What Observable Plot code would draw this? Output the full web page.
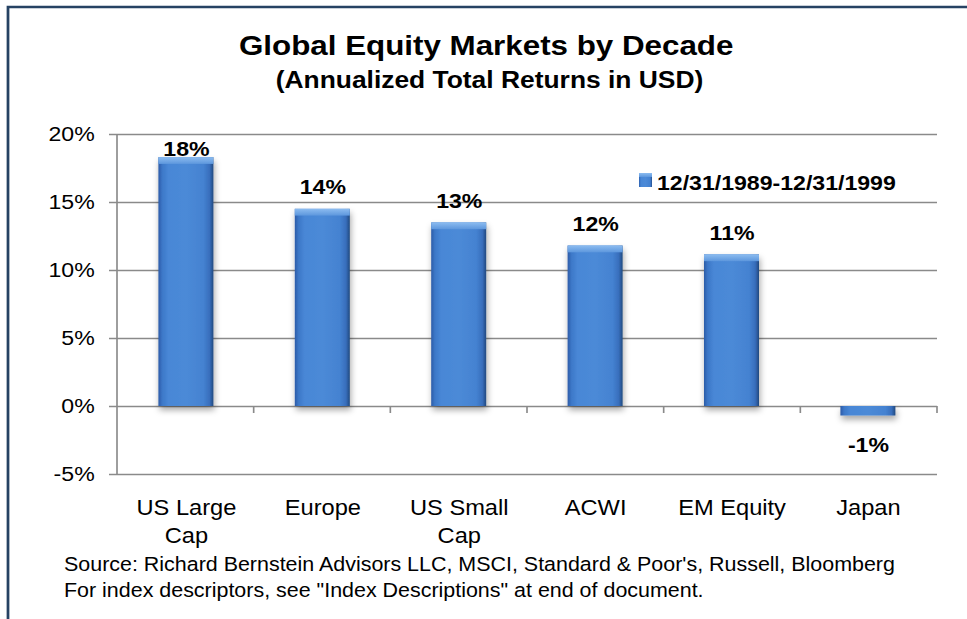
<!DOCTYPE html>
<html><head><meta charset="utf-8">
<script src="https://cdn.jsdelivr.net/npm/d3@7"></script>
<script src="https://cdn.jsdelivr.net/npm/@observablehq/plot@0.6"></script>
<style>html,body{margin:0;padding:0;background:#fff;overflow:hidden}</style>
</head><body><div id="chart"></div>
<script>
// ---- data ----
const categories = ["US Large Cap", "Europe", "US Small Cap", "ACWI", "EM Equity", "Japan"];
const tickLabels = ["US Large\nCap", "Europe", "US Small\nCap", "ACWI", "EM Equity", "Japan"];
const values = [18.3, 14.5, 13.5, 11.8, 11.15, -0.7];
const valueLabels = ["18%", "14%", "13%", "12%", "11%", "-1%"];
const yTicks = [-5, 0, 5, 10, 15, 20];
const seriesName = "12/31/1989-12/31/1999";
const titleText = "Global Equity Markets by Decade";
const subtitleText = "(Annualized Total Returns in USD)";
const sourceLines = [
  "Source: Richard Bernstein Advisors LLC, MSCI, Standard & Poor's, Russell, Bloomberg",
  "For index descriptors, see \"Index Descriptions\" at end of document."
];

// ---- layout (drawn in a narrower viewBox, stretched horizontally like the original) ----
const S = 1.1, OUTER_W = 967, W = OUTER_W / S, H = 619;
const mL = 117 / S, mR = W - 937 / S, mT = 134, mB = H - 474;
const FONT = "'Liberation Sans', Arial, Helvetica, sans-serif";
const data = categories.map((name, i) => ({name, value: values[i], label: valueLabels[i]}));
const bevel = 0.5;

const plot = Plot.plot({
  width: W, height: H,
  marginLeft: mL, marginRight: mR, marginTop: mT, marginBottom: mB,
  style: {fontFamily: FONT, background: "white", overflow: "visible", color: "black"},
  x: {domain: categories, paddingInner: 0.6, paddingOuter: 0.3, label: null},
  y: {domain: [-5, 20], label: null},
  marks: [
    Plot.gridY(yTicks, {stroke: "#8a8a8a", strokeOpacity: 1, strokeWidth: 1.5}),
    Plot.axisY(yTicks, {tickSize: 7.3, tickPadding: 13.5, stroke: "#8a8a8a", strokeWidth: 1.5,
      fill: "black", fontSize: 21, tickFormat: d => d + "%", label: null}),
    Plot.axisX(categories, {tickSize: 0, tickPadding: 21, fontSize: 21.5, lineHeight: 1.3,
      fill: "black", tickFormat: d => tickLabels[categories.indexOf(d)], label: null}),
    Plot.barY(data, {x: "name", y: "value", fill: "#4a88d6"}),
    Plot.barY(data.filter(d => d.value > 0), {x: "name", y1: "value", y2: d => d.value - bevel, fill: "#7aaeea"}),
    Plot.text(data.filter(d => d.value >= 0), {x: "name", y: d => Math.min(d.value, 17.34), text: "label",
      dy: -15, lineAnchor: "bottom", fontWeight: "bold", fontSize: 21, fill: "black"}),
    Plot.text(data.filter(d => d.value < 0), {x: "name", y: "value", text: "label",
      dy: 35.5, lineAnchor: "bottom", fontWeight: "bold", fontSize: 21, fill: "black"})
  ]
});

const svg = d3.select(plot);
svg.attr("viewBox", `0 0 ${W} ${H}`).attr("width", OUTER_W).attr("height", H)
   .attr("preserveAspectRatio", "none")
   .style("width", OUTER_W + "px").style("height", H + "px").style("max-width", "none");

// defs: gradients + shadow
const defs = svg.insert("defs", ":first-child");
const g1 = defs.append("linearGradient").attr("id", "barGrad").attr("x1", 0).attr("x2", 1).attr("y1", 0).attr("y2", 0);
[[0, "#2c5ca8"], [0.07, "#3d78c8"], [0.18, "#4887d6"], [0.5, "#4c8ad7"], [0.82, "#4482d1"], [0.93, "#386ebc"], [1, "#21497f"]]
  .forEach(([o, c]) => g1.append("stop").attr("offset", o).attr("stop-color", c));
const g2 = defs.append("linearGradient").attr("id", "bevelGrad").attr("x1", 0).attr("x2", 0).attr("y1", 0).attr("y2", 1);
[[0, "#8cbcf0"], [1, "#5d97dd"]].forEach(([o, c]) => g2.append("stop").attr("offset", o).attr("stop-color", c));
const f = defs.append("filter").attr("id", "shadow").attr("x", "-20%").attr("y", "-20%").attr("width", "140%").attr("height", "140%");
f.append("feDropShadow").attr("dx", 1).attr("dy", 4).attr("stdDeviation", 3).attr("flood-color", "#000").attr("flood-opacity", 0.35);

const barGroups = svg.selectAll('g[aria-label="bar"]').nodes();
if (barGroups[0]) d3.select(barGroups[0]).attr("fill", "url(#barGrad)").attr("filter", "url(#shadow)");
if (barGroups[1]) d3.select(barGroups[1]).attr("fill", "url(#bevelGrad)");

// axis line and category ticks from the plot's own scales
const xs = plot.scale("x"), ys = plot.scale("y");
const [r0, r1] = xs.range;
const step = (r1 - r0) / categories.length;
const y0 = ys.apply(0), yTop = ys.apply(d3.max(yTicks)), yBot = ys.apply(d3.min(yTicks));
const ax = svg.append("g").attr("stroke", "#8a8a8a").attr("stroke-width", 1.5);
ax.append("line").attr("x1", r0).attr("x2", r0).attr("y1", yTop).attr("y2", yBot);
for (let k = 1; k <= categories.length; k++) {
  ax.append("line").attr("x1", r0 + k * step).attr("x2", r0 + k * step).attr("y1", y0).attr("y2", y0 + 7);
}

// title, subtitle
svg.append("text").attr("x", 442).attr("y", 55).attr("text-anchor", "middle")
  .attr("font-family", FONT).attr("font-weight", "bold").attr("font-size", 28.5).attr("fill", "black").text(titleText);
svg.append("text").attr("x", 445).attr("y", 88).attr("text-anchor", "middle")
  .attr("font-family", FONT).attr("font-weight", "bold").attr("font-size", 24).attr("fill", "black").text(subtitleText);

// legend
svg.append("rect").attr("x", 639 / S).attr("y", 173).attr("width", 13 / S).attr("height", 14).attr("fill", "url(#barGrad)");
svg.append("rect").attr("x", 639 / S).attr("y", 173).attr("width", 13 / S).attr("height", 4).attr("fill", "url(#bevelGrad)");
svg.append("text").attr("x", 657 / S).attr("y", 190).attr("text-anchor", "start").attr("font-family", FONT).attr("font-weight", "bold")
  .attr("font-size", 21).attr("fill", "black").text(seriesName);

// source
sourceLines.forEach((s, i) => svg.append("text").attr("x", 64 / S).attr("y", 571 + i * 26).attr("text-anchor", "start")
  .attr("font-family", FONT).attr("font-size", 19.5).attr("fill", "black").text(s));

// frame
svg.append("rect").attr("x", 8 / S).attr("y", 7).attr("width", W + 20).attr("height", H + 20)
  .attr("fill", "none").attr("stroke", "#264263").attr("stroke-width", 2.5);

document.getElementById("chart").appendChild(plot);
</script>
</body></html>
